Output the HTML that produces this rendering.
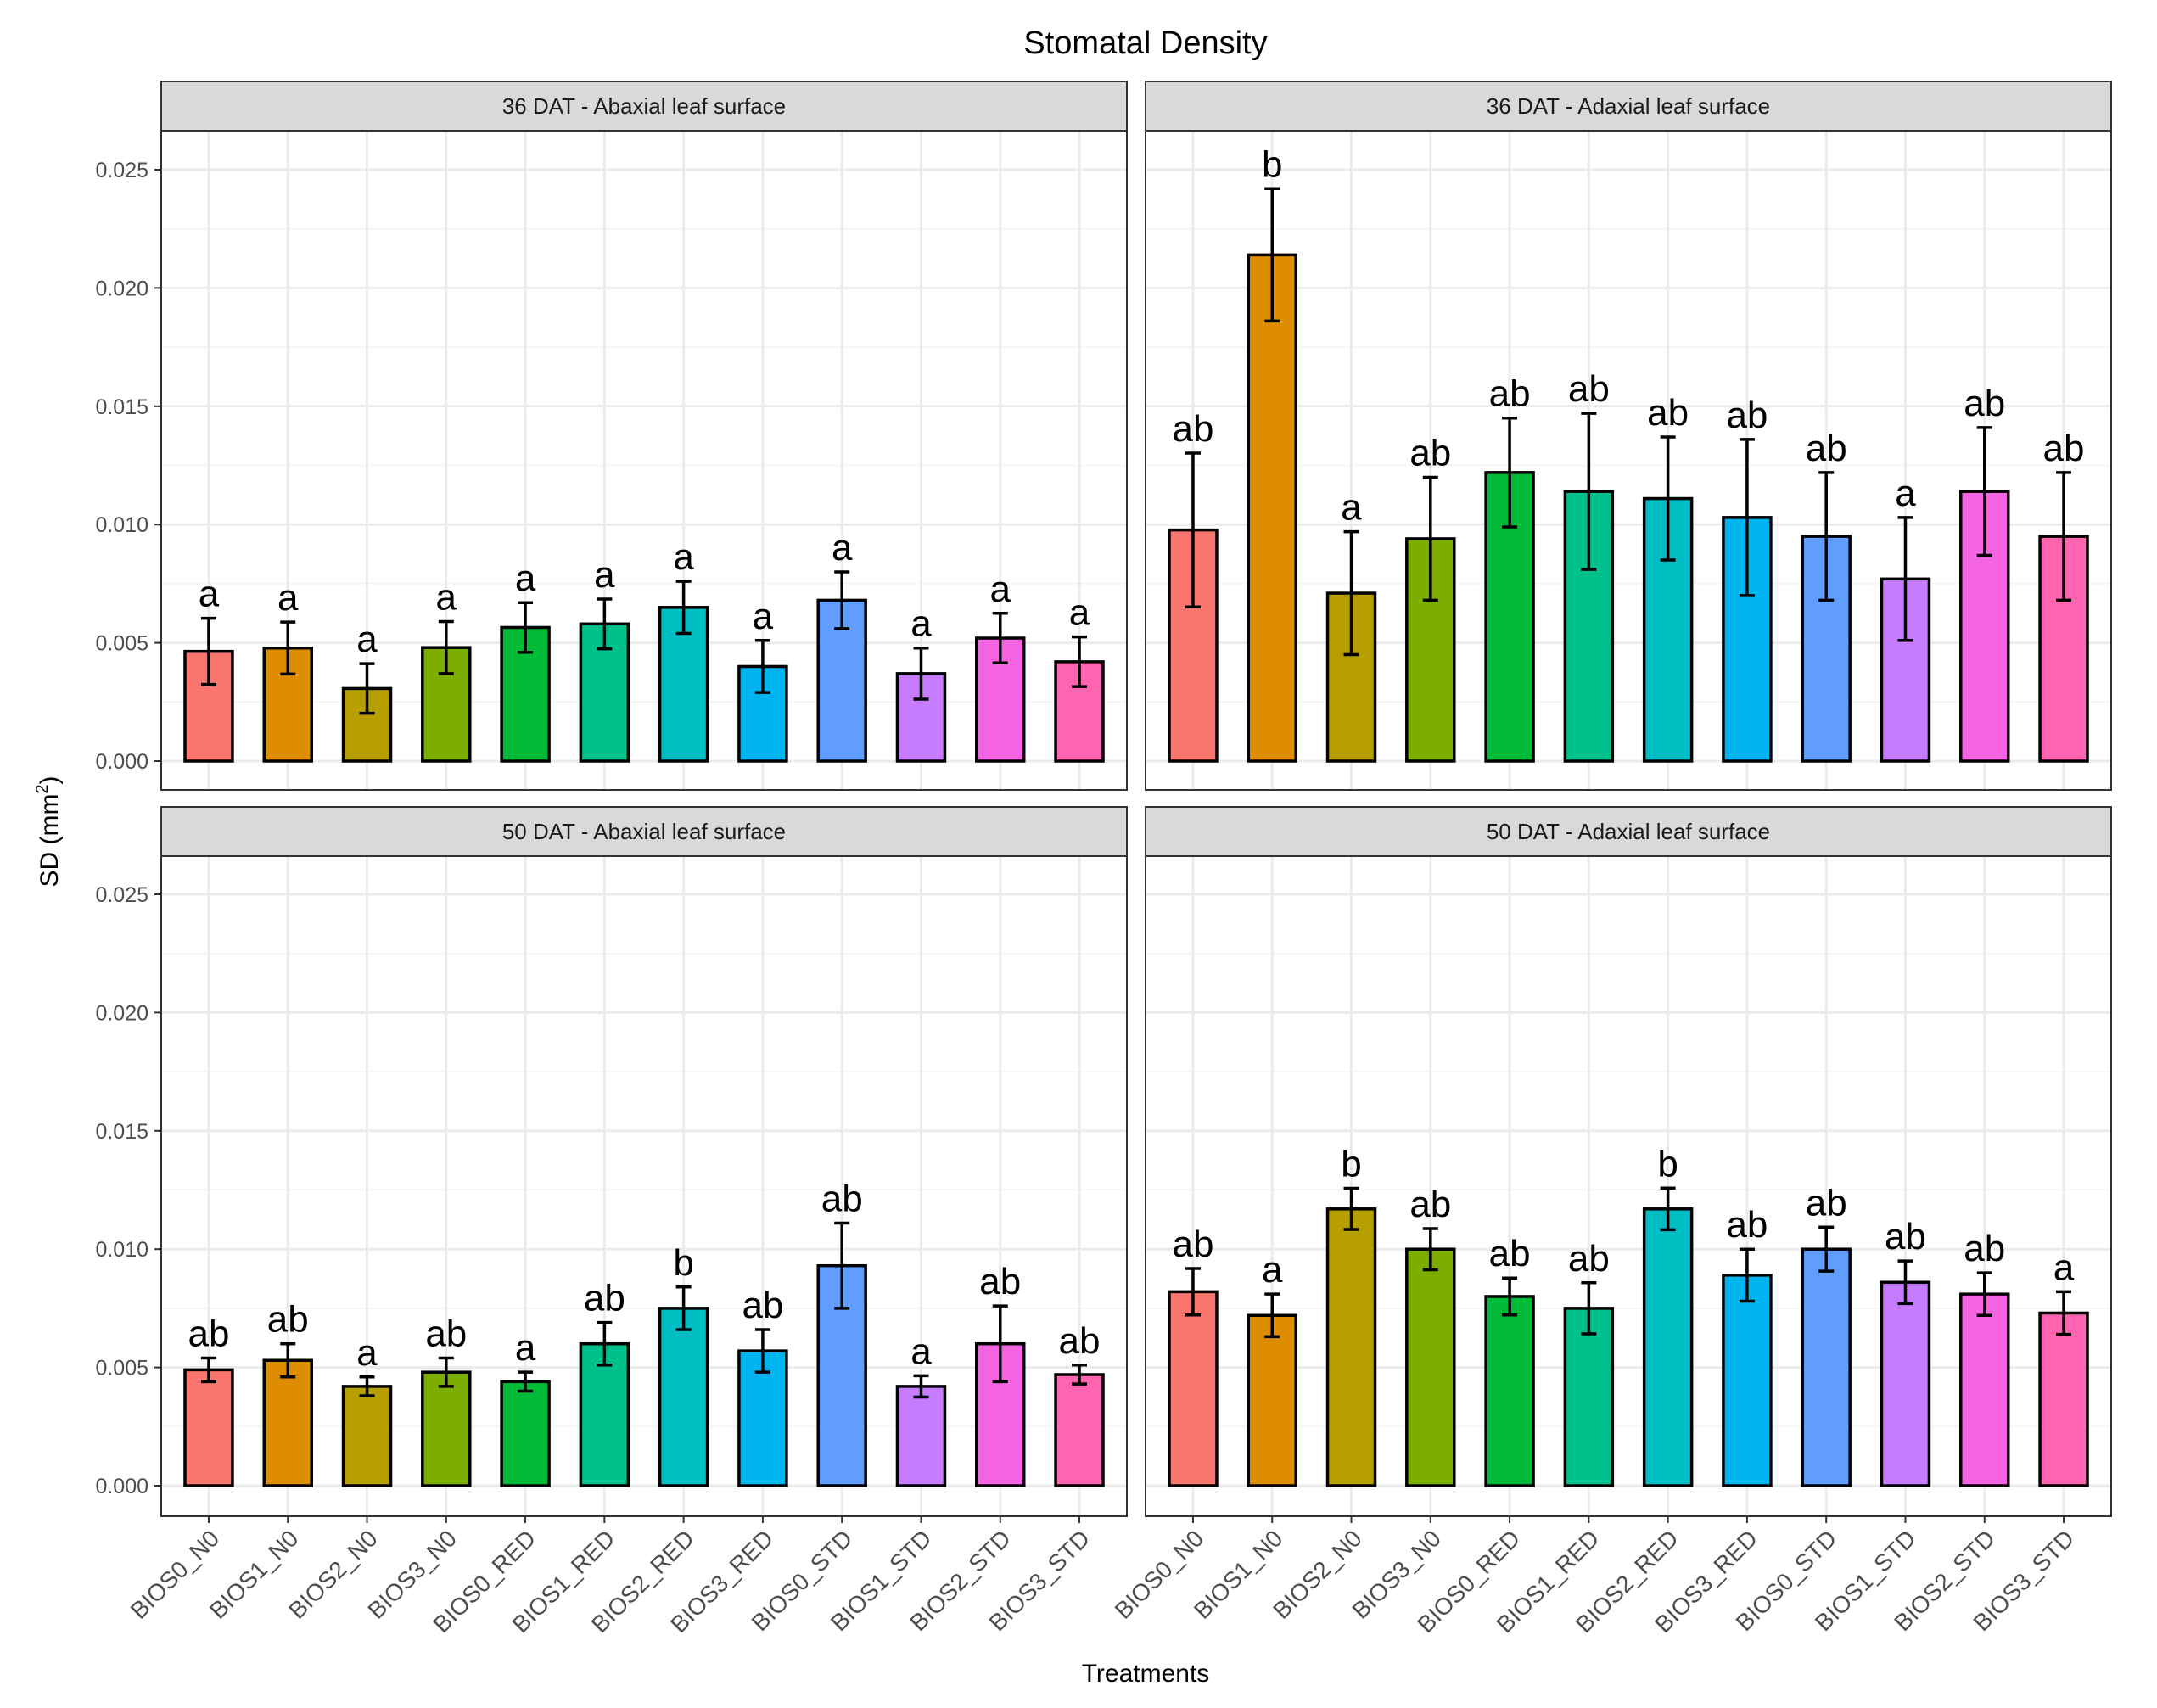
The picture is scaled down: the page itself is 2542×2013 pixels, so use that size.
<!DOCTYPE html>
<html><head><meta charset="utf-8"><style>
html,body{margin:0;padding:0;background:#fff;}
svg{display:block;font-family:"Liberation Sans",Arial,sans-serif;}
</style></head><body>
<svg id="chart" width="2542" height="2013" viewBox="0 0 2542 2013" xmlns="http://www.w3.org/2000/svg">
<rect width="2542" height="2013" fill="#fff"/>
<text x="1350" y="63" font-size="38" text-anchor="middle" fill="#000">Stomatal Density</text>
<text transform="translate(68,980) rotate(-90)" font-size="30" text-anchor="middle" fill="#000">SD (mm<tspan font-size="20" dy="-12">2</tspan><tspan dy="12">)</tspan></text>
<text x="1350" y="1982" font-size="30" text-anchor="middle" fill="#000">Treatments</text>
<g id="panels"></g>
</svg>
<script>
const categories = ["BIOS0_N0","BIOS1_N0","BIOS2_N0","BIOS3_N0","BIOS0_RED","BIOS1_RED","BIOS2_RED","BIOS3_RED","BIOS0_STD","BIOS1_STD","BIOS2_STD","BIOS3_STD"];
const colors = ["#F8766D","#DE8C00","#B79F00","#7CAE00","#00BA38","#00C08B","#00BFC4","#00B4F0","#619CFF","#C77CFF","#F564E3","#FF64B0"];
const yTicks = [0, 0.005, 0.010, 0.015, 0.020, 0.025];
const yTickLabels = ["0.000","0.005","0.010","0.015","0.020","0.025"];
const panelTitles = ["36 DAT - Abaxial leaf surface","36 DAT - Adaxial leaf surface","50 DAT - Abaxial leaf surface","50 DAT - Adaxial leaf surface"];
const means36Ab = [0.00464,0.00478,0.00307,0.0048,0.00565,0.0058,0.0065,0.0040,0.0068,0.0037,0.0052,0.0042];
const err36Ab = [0.0014,0.0011,0.00105,0.0011,0.00105,0.00105,0.0011,0.0011,0.0012,0.00108,0.00105,0.00105];
const letters36Ab = ["a","a","a","a","a","a","a","a","a","a","a","a"];
const means36Ad = [0.00977,0.0214,0.0071,0.0094,0.0122,0.0114,0.0111,0.0103,0.0095,0.0077,0.0114,0.0095];
const err36Ad = [0.00325,0.0028,0.0026,0.0026,0.0023,0.0033,0.0026,0.0033,0.0027,0.0026,0.0027,0.0027];
const letters36Ad = ["ab","b","a","ab","ab","ab","ab","ab","ab","a","ab","ab"];
const means50Ab = [0.0049,0.0053,0.0042,0.0048,0.0044,0.0060,0.0075,0.0057,0.0093,0.0042,0.0060,0.0047];
const err50Ab = [0.0005,0.0007,0.0004,0.0006,0.0004,0.0009,0.0009,0.0009,0.0018,0.00045,0.0016,0.0004];
const letters50Ab = ["ab","ab","a","ab","a","ab","b","ab","ab","a","ab","ab"];
const means50Ad = [0.0082,0.0072,0.0117,0.0100,0.0080,0.0075,0.0117,0.0089,0.0100,0.0086,0.0081,0.0073];
const err50Ad = [0.00098,0.0009,0.00087,0.00087,0.00078,0.00108,0.00088,0.0011,0.00093,0.0009,0.0009,0.0009];
const letters50Ad = ["ab","a","b","ab","ab","ab","b","ab","ab","ab","ab","a"];

const NS="http://www.w3.org/2000/svg";
const root=document.getElementById('panels');
function mk(tag,attrs,parent){const e=document.createElementNS(NS,tag);for(const k in attrs)e.setAttribute(k,attrs[k]);(parent||root).appendChild(e);return e;}

const panels=[
 {x0:190,x1:1328,sTop:96,sBot:154,pBot:931,zero:897,means:means36Ab,errs:err36Ab,letters:letters36Ab,yAxis:true,xAxis:false},
 {x0:1350,x1:2488,sTop:96,sBot:154,pBot:931,zero:897,means:means36Ad,errs:err36Ad,letters:letters36Ad,yAxis:false,xAxis:false},
 {x0:190,x1:1328,sTop:951,sBot:1009,pBot:1787,zero:1751,means:means50Ab,errs:err50Ab,letters:letters50Ab,yAxis:true,xAxis:true},
 {x0:1350,x1:2488,sTop:951,sBot:1009,pBot:1787,zero:1751,means:means50Ad,errs:err50Ad,letters:letters50Ad,yAxis:false,xAxis:true}
];
const pxPerUnit=697/0.025;

panels.forEach((p,pi)=>{
  const g=mk('g',{});
  
  
  const yS=v=>p.zero-v*pxPerUnit;
  const band=(p.x1-p.x0)/(categories.length-1+1.2);
  const xS=i=>p.x0+band*(0.6+i);
  mk('rect',{x:p.x0,y:p.sBot,width:p.x1-p.x0,height:p.pBot-p.sBot,fill:'#fff'},g);
  for(let i=0;i<yTicks.length-1;i++){
    const l=mk('line',{x1:p.x0,x2:p.x1,y1:yS((yTicks[i]+yTicks[i+1])/2),y2:yS((yTicks[i]+yTicks[i+1])/2),stroke:'#f3f3f3','stroke-width':1.5},g);
    
    
  }
  yTicks.forEach((t,i)=>{
    const l=mk('line',{x1:p.x0,x2:p.x1,y1:yS(t),y2:yS(t),stroke:'#ebebeb','stroke-width':3},g);
    
    
    if(p.yAxis){
      mk('line',{x1:p.x0-8,x2:p.x0,y1:yS(t),y2:yS(t),stroke:'#333','stroke-width':2},g);
      const tx=mk('text',{x:p.x0-15,y:yS(t)+9,'font-size':25,'text-anchor':'end',fill:'#4d4d4d'},g);
      tx.textContent=yTickLabels[i];
      
      
    }
  });
  categories.forEach((c,i)=>{
    const l=mk('line',{x1:xS(i),x2:xS(i),y1:p.sBot,y2:p.pBot,stroke:'#ebebeb','stroke-width':3},g);
    
    
  });
  const bw=band*0.6;
  categories.forEach((c,i)=>{
    const v=p.means[i], e=p.errs[i];
    const r=mk('rect',{x:xS(i)-bw/2,y:yS(v),width:bw,height:yS(0)-yS(v),fill:colors[i],stroke:'#000','stroke-width':3.5},g);
    
    
    const eg=mk('g',{stroke:'#000','stroke-width':3.5},g);
    
    
    const cw=9;
    mk('line',{x1:xS(i),x2:xS(i),y1:yS(v+e),y2:yS(v-e)},eg);
    mk('line',{x1:xS(i)-cw,x2:xS(i)+cw,y1:yS(v+e),y2:yS(v+e)},eg);
    mk('line',{x1:xS(i)-cw,x2:xS(i)+cw,y1:yS(v-e),y2:yS(v-e)},eg);
    const lt=mk('text',{x:xS(i),y:yS(v+e)-14,'font-size':44,'text-anchor':'middle',fill:'#000'},g);
    lt.textContent=p.letters[i];
    
    
    if(p.xAxis){
      mk('line',{x1:xS(i),x2:xS(i),y1:p.pBot,y2:p.pBot+8,stroke:'#333','stroke-width':2},g);
      const xt=mk('text',{transform:`translate(${xS(i)+14},${p.pBot+28}) rotate(-45)`,'font-size':28,'text-anchor':'end',fill:'#4d4d4d'},g);
      xt.textContent=c;
      
      
    }
  });
  mk('rect',{x:p.x0,y:p.sBot,width:p.x1-p.x0,height:p.pBot-p.sBot,fill:'none',stroke:'#333','stroke-width':2},g);
  const s=mk('rect',{x:p.x0,y:p.sTop,width:p.x1-p.x0,height:p.sBot-p.sTop,fill:'#d9d9d9',stroke:'#333','stroke-width':2},g);
  
  
  const st=mk('text',{x:(p.x0+p.x1)/2,y:(p.sTop+p.sBot)/2+9,'font-size':26,'text-anchor':'middle',fill:'#1a1a1a'},g);
  st.textContent=panelTitles[pi];
  
  
});
</script>
</body></html>
